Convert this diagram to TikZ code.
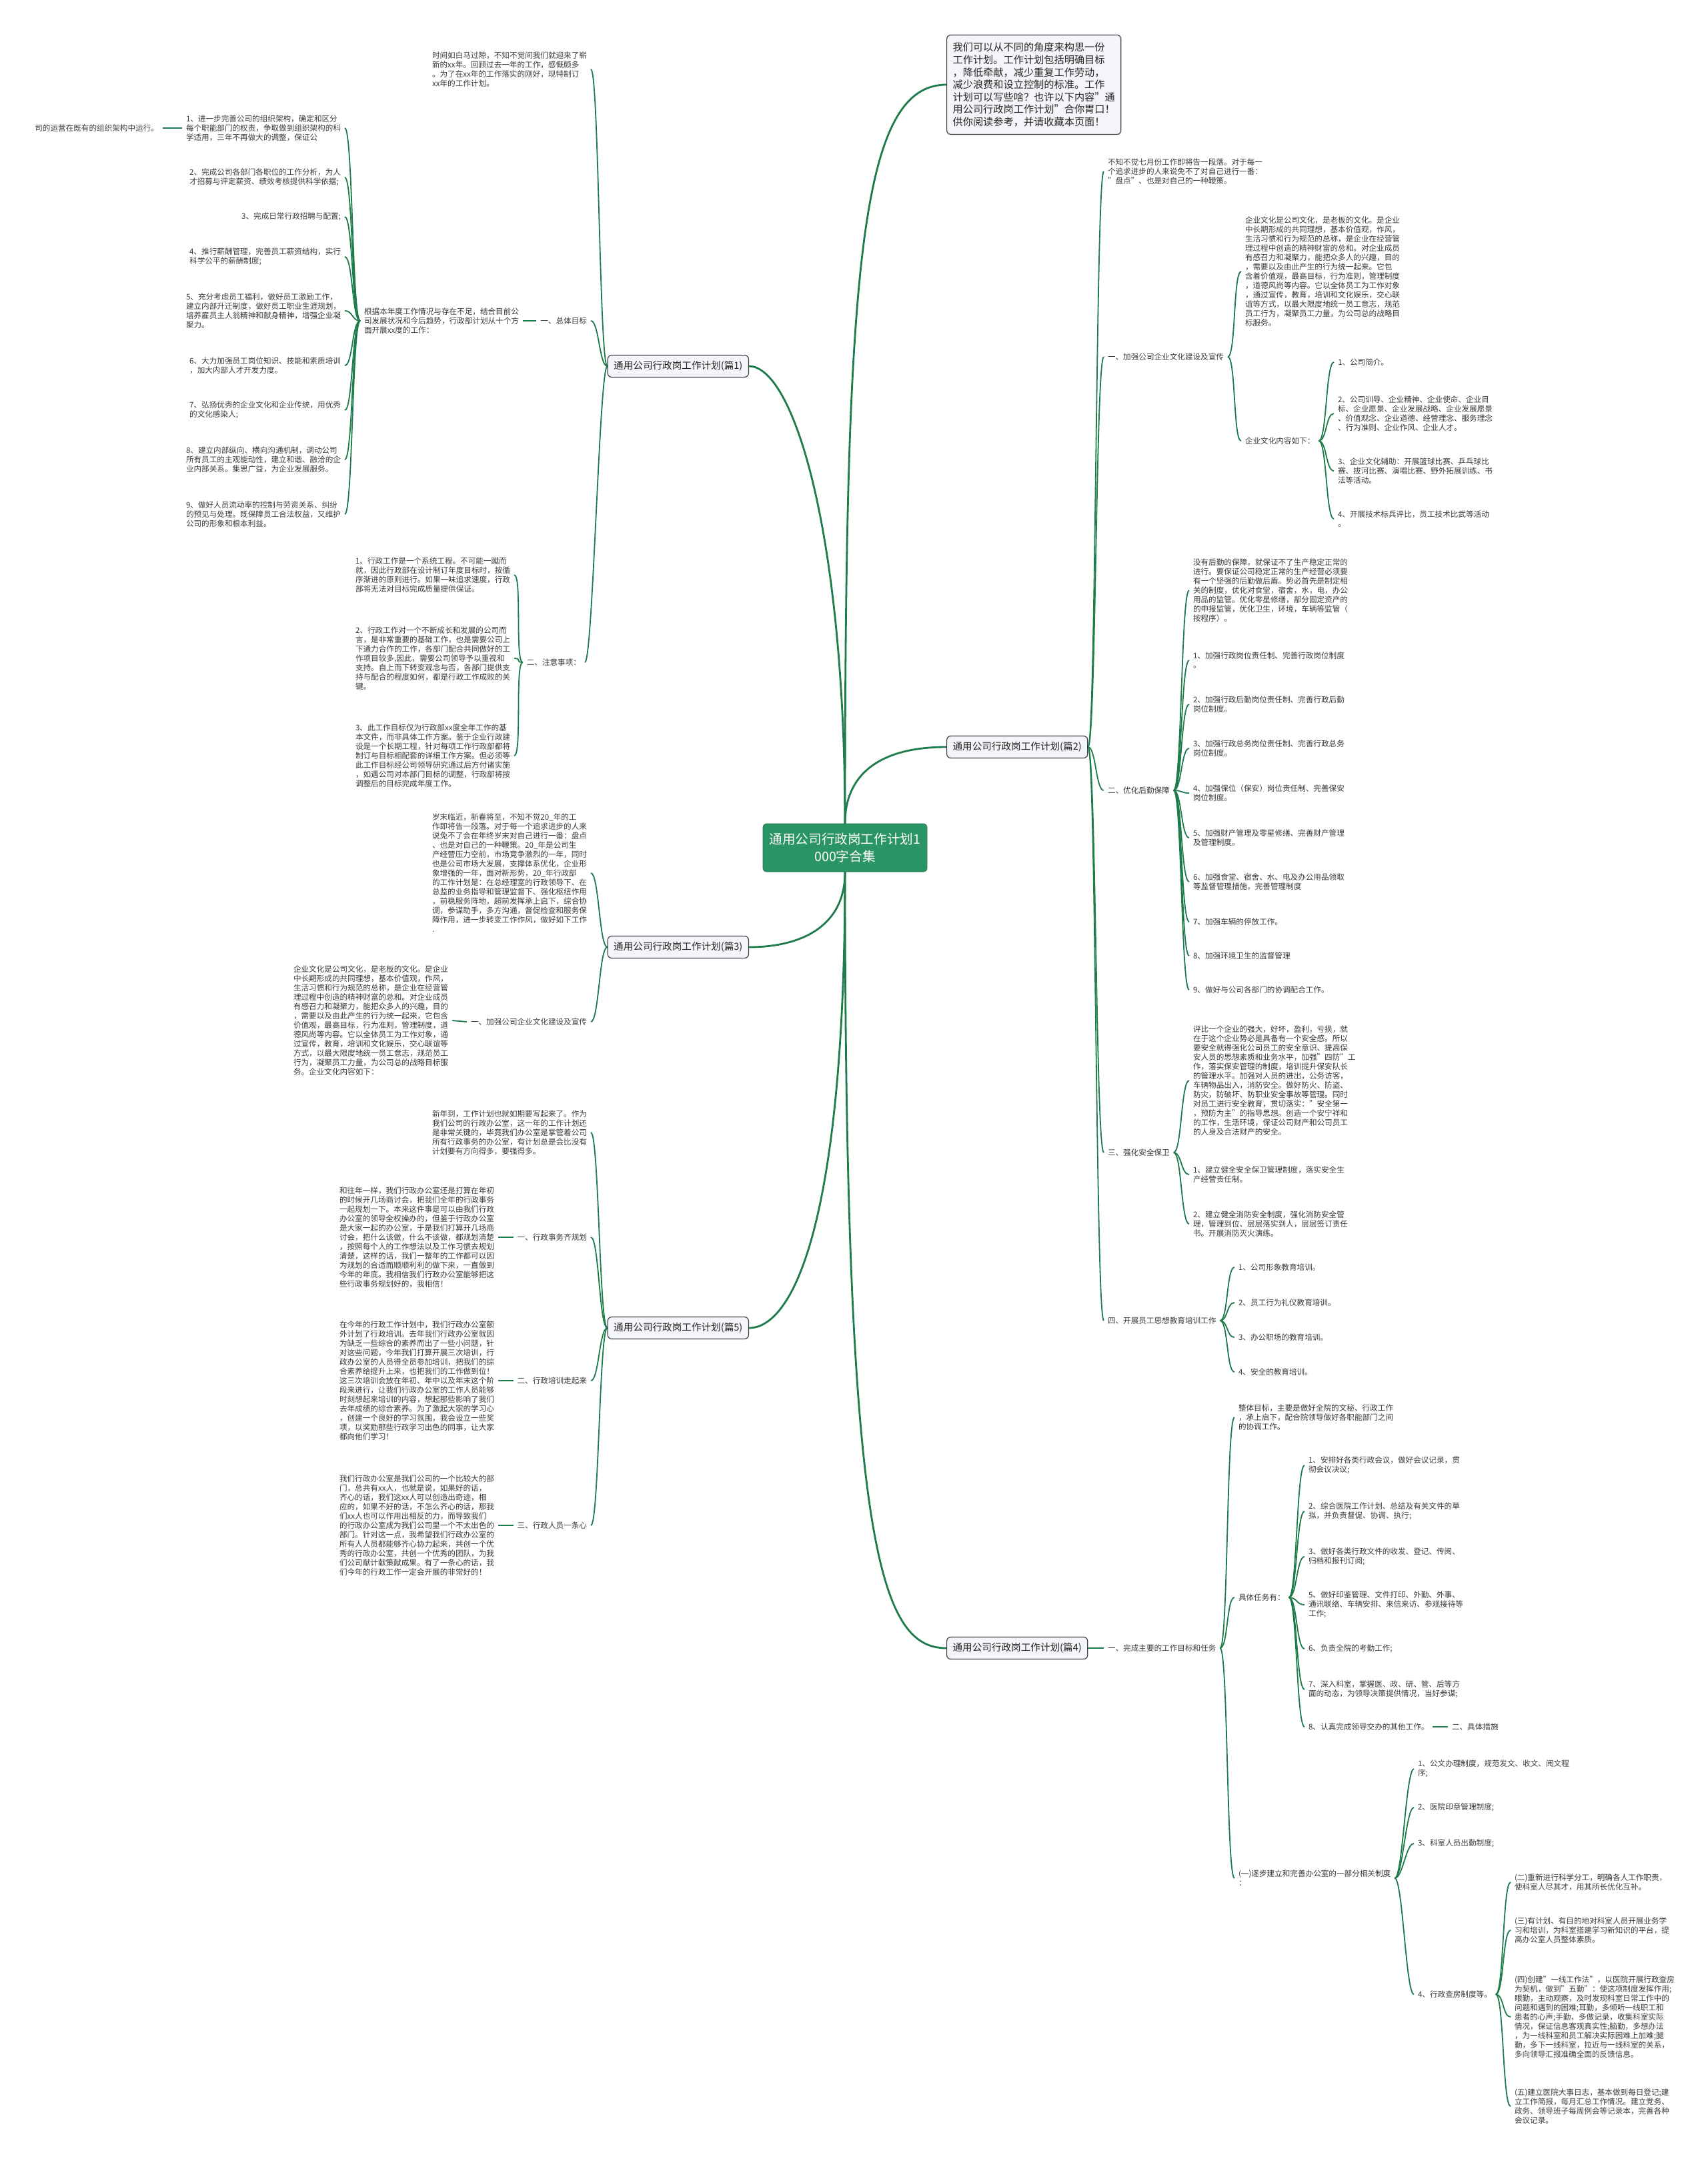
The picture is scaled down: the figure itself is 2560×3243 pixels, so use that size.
\documentclass[tikz,border=0pt]{standalone}
\usepackage{fontspec}
\setmainfont{Noto Sans CJK SC}
\definecolor{lk}{HTML}{1E7B4B}
\definecolor{rootg}{HTML}{2B9464}
\definecolor{tx}{HTML}{3A3A3A}
\definecolor{tpf}{HTML}{F3F5F8}
\definecolor{tpd}{HTML}{3C4048}
\tikzset{
 con/.style={draw=lk, line width=0.9pt},
 mainc/.style={draw=lk, line width=1.4pt},
 txt/.style={inner sep=0pt, outer xsep=3pt, outer ysep=0pt, align=left, text=tx, font=\fontsize{5.8}{7}\selectfont},
 topic/.style={draw=tpd, fill=tpf, rounded corners=3pt, line width=0.6pt, inner xsep=4.5pt, inner ysep=0pt, minimum height=16.5pt, text=black!85, font=\fontsize{7.3}{8.8}\selectfont},
 rootn/.style={fill=rootg, draw=rootg!80!black, rounded corners=2.5pt, minimum width=123pt, minimum height=36pt, align=center, text=white, font=\fontsize{9.8}{13.3}\selectfont},
 introbox/.style={topic, align=left, minimum width=124pt, minimum height=74.5pt, font=\fontsize{7.6}{9.3}\selectfont}
}
\newcommand\conR[2]{\draw[con] (#1.east) .. controls +(12,0) and +(-12,0) .. (#2.west);}
\newcommand\conL[2]{\draw[con] (#1.west) .. controls +(-12,0) and +(12,0) .. (#2.east);}
\begin{document}
\begin{tikzpicture}[x=0.5pt,y=-0.5pt]
\fill[white] (0,0) rectangle (2560,3243);
\useasboundingbox (0,0) rectangle (2560,3243);

% root and topics
\node[rootn] (root) at (1267,1271) {通用公司行政岗工作计划1\\000字合集};
\node[introbox, anchor=west] (intro) at (1419,127) {我们可以从不同的角度来构思一份\\工作计划。工作计划包括明确目标\\，降低牵献，减少重复工作劳动，\\减少浪费和设立控制的标准。工作\\计划可以写些啥？也许以下内容"通\\用公司行政岗工作计划"合你胃口！\\供你阅读参考，并请收藏本页面！};
\node[topic, anchor=west] (t2) at (1419,1120) {通用公司行政岗工作计划(篇2)};
\node[topic, anchor=west] (t4) at (1419,2471) {通用公司行政岗工作计划(篇4)};
\node[topic, anchor=east] (t1) at (1123,549) {通用公司行政岗工作计划(篇1)};
\node[topic, anchor=east] (t3) at (1123,1420) {通用公司行政岗工作计划(篇3)};
\node[topic, anchor=east] (t5) at (1123,1991) {通用公司行政岗工作计划(篇5)};

\draw[mainc] (root.north) .. controls (1267,400) and (1290,127) .. (intro.west);
\draw[mainc] (root.north) .. controls (1267,1160) and (1320,1120) .. (t2.west);
\draw[mainc] (root.north) .. controls (1267,800) and (1190,549) .. (t1.east);
\draw[mainc] (root.south) .. controls (1267,1390) and (1200,1420) .. (t3.east);
\draw[mainc] (root.south) .. controls (1267,1830) and (1190,1991) .. (t5.east);
\draw[mainc] (root.south) .. controls (1267,2320) and (1320,2471) .. (t4.west);

% ---------- 篇1 ----------
\node[txt, anchor=east] (a1intro) at (886,104) {时间如白马过隙，不知不觉间我们就迎来了崭\\新的xx年。回顾过去一年的工作，感慨颇多\\。为了在xx年的工作落实的刚好，现特制订\\xx年的工作计划。};
\node[txt, anchor=east] (a1g) at (886,481) {一、总体目标};
\node[txt, anchor=east] (a1gc) at (784,481) {根据本年度工作情况与存在不足，结合目前公\\司发展状况和今后趋势，行政部计划从十个方\\面开展xx度的工作：};
\node[txt, anchor=east] (i1) at (517,192) {1、进一步完善公司的组织架构，确定和区分\\每个职能部门的权责，争取做到组织架构的科\\学适用，三年不再做大的调整，保证公};
\node[txt, anchor=east] (i1x) at (244,192) {司的运营在既有的组织架构中运行。};
\node[txt, anchor=east] (i2) at (517,266) {2、完成公司各部门各职位的工作分析，为人\\才招募与评定薪资、绩效考核提供科学依据;};
\node[txt, anchor=east] (i3) at (517,325) {3、完成日常行政招聘与配置;};
\node[txt, anchor=east] (i4) at (517,385) {4、推行薪酬管理，完善员工薪资结构，实行\\科学公平的薪酬制度;};
\node[txt, anchor=east] (i5) at (517,466) {5、充分考虑员工福利，做好员工激励工作，\\建立内部升迁制度，做好员工职业生涯规划，\\培养雇员主人翁精神和献身精神，增强企业凝\\聚力。};
\node[txt, anchor=east] (i6) at (517,548) {6、大力加强员工岗位知识、技能和素质培训\\，加大内部人才开发力度。};
\node[txt, anchor=east] (i7) at (517,615) {7、弘扬优秀的企业文化和企业传统，用优秀\\的文化感染人;};
\node[txt, anchor=east] (i8) at (517,689) {8、建立内部纵向、横向沟通机制，调动公司\\所有员工的主观能动性，建立和谐、融洽的企\\业内部关系。集思广益，为企业发展服务。};
\node[txt, anchor=east] (i9) at (517,771) {9、做好人员流动率的控制与劳资关系、纠纷\\的预见与处理。既保障员工合法权益，又维护\\公司的形象和根本利益。};
\node[txt, anchor=east] (a1n) at (877,993) {二、注意事项：};
\node[txt, anchor=east] (n1) at (771,862) {1、行政工作是一个系统工程。不可能一蹴而\\就，因此行政部在设计制订年度目标时，按循\\序渐进的原则进行。如果一味追求速度，行政\\部将无法对目标完成质量提供保证。};
\node[txt, anchor=east] (n2) at (771,987) {2、行政工作对一个不断成长和发展的公司而\\言，是非常重要的基础工作，也是需要公司上\\下通力合作的工作，各部门配合共同做好的工\\作项目较多,因此，需要公司领导予以重视和\\支持。自上而下转变观念与否，各部门提供支\\持与配合的程度如何，都是行政工作成败的关\\键。};
\node[txt, anchor=east] (n3) at (771,1133) {3、此工作目标仅为行政部xx度全年工作的基\\本文件，而非具体工作方案。鉴于企业行政建\\设是一个长期工程，针对每项工作行政部都将\\制订与目标相配套的详细工作方案。但必须等\\此工作目标经公司领导研究通过后方付诸实施\\，如遇公司对本部门目标的调整，行政部将按\\调整后的目标完成年度工作。};

\foreach \c in {a1intro,a1g,a1n} {\conL{t1}{\c}}
\draw[con] (a1g.west) -- (a1gc.east);
\foreach \c in {i1,i2,i3,i4,i5,i6,i7,i8,i9} {\conL{a1gc}{\c}}
\draw[con] (i1.west) -- (i1x.east);
\foreach \c in {n1,n2,n3} {\conL{a1n}{\c}}

% ---------- 篇3 ----------
\node[txt, anchor=east] (c3intro) at (886,1309) {岁末临近，新春将至，不知不觉20\_年的工\\作即将告一段落。对于每一个追求进步的人来\\说免不了会在年终岁末对自己进行一番：盘点\\、也是对自己的一种鞭策。20\_年是公司生\\产经营压力空前，市场竞争激烈的一年，同时\\也是公司市场大发展，支撑体系优化，企业形\\象增强的一年，面对新形势，20\_年行政部\\的工作计划是：在总经理室的行政领导下、在\\总监的业务指导和管理监督下、强化枢纽作用\\，前稳服务阵地，超前发挥承上启下，综合协\\调，参谋助手，多方沟通，督促检查和服务保\\障作用，进一步转变工作作风，做好如下工作\\.};
\node[txt, anchor=east] (c3a) at (886,1532) {一、加强公司企业文化建设及宣传};
\node[txt, anchor=east] (c3ac) at (678,1530) {企业文化是公司文化，是老板的文化。是企业\\中长期形成的共同理想，基本价值观，作风，\\生活习惯和行为规范的总称，是企业在经营管\\理过程中创造的精神财富的总和。对企业成员\\有感召力和凝聚力，能把众多人的兴趣，目的\\，需要以及由此产生的行为统一起来，它包含\\价值观，最高目标，行为准则，管理制度，道\\德风尚等内容。它以全体员工为工作对象，通\\过宣传，教育，培训和文化娱乐，交心联谊等\\方式，以最大限度地统一员工意志，规范员工\\行为，凝聚员工力量，为公司总的战略目标服\\务。企业文化内容如下：};
\foreach \c in {c3intro,c3a} {\conL{t3}{\c}}
\draw[con] (c3a.west) -- (c3ac.east);

% ---------- 篇5 ----------
\node[txt, anchor=east] (e5intro) at (886,1698) {新年到，工作计划也就如期要写起来了。作为\\我们公司的行政办公室，这一年的工作计划还\\是非常关键的，毕竟我们办公室是掌管着公司\\所有行政事务的办公室，有计划总是会比没有\\计划要有方向得多，要强得多。};
\node[txt, anchor=east] (e5a) at (886,1855) {一、行政事务齐规划};
\node[txt, anchor=east] (e5ac) at (747,1855) {和往年一样，我们行政办公室还是打算在年初\\的时候开几场商讨会，把我们全年的行政事务\\一起规划一下。本来这件事是可以由我们行政\\办公室的领导全权操办的，但鉴于行政办公室\\是大家一起的办公室，于是我们打算开几场商\\讨会，把什么该做，什么不该做，都规划清楚\\，按照每个人的工作想法以及工作习惯去规划\\清楚，这样的话，我们一整年的工作都可以因\\为规划的合适而顺顺利利的做下来，一直做到\\今年的年底。我相信我们行政办公室能够把这\\些行政事务规划好的，我相信！};
\node[txt, anchor=east] (e5b) at (886,2070) {二、行政培训走起来};
\node[txt, anchor=east] (e5bc) at (747,2070) {在今年的行政工作计划中，我们行政办公室额\\外计划了行政培训。去年我们行政办公室就因\\为缺乏一些综合的素养而出了一些小问题，针\\对这些问题，今年我们打算开展三次培训，行\\政办公室的人员得全员参加培训，把我们的综\\合素养给提升上来，也把我们的工作做到位！\\这三次培训会放在年初、年中以及年末这个阶\\段来进行，让我们行政办公室的工作人员能够\\时刻想起来培训的内容，想起那些影响了我们\\去年成绩的综合素养。为了激起大家的学习心\\，创建一个良好的学习氛围，我会设立一些奖\\项，以奖励那些行政学习出色的同事，让大家\\都向他们学习！};
\node[txt, anchor=east] (e5c) at (886,2287) {三、行政人员一条心};
\node[txt, anchor=east] (e5cc) at (747,2287) {我们行政办公室是我们公司的一个比较大的部\\门，总共有xx人，也就是说，如果好的话，\\齐心的话，我们这xx人可以创造出奇迹，相\\应的，如果不好的话，不怎么齐心的话，那我\\们xx人也可以作用出相反的力，而导致我们\\的行政办公室成为我们公司里一个不太出色的\\部门。针对这一点，我希望我们行政办公室的\\所有人人员都能够齐心协力起来，共创一个优\\秀的行政办公室，共创一个优秀的团队，为我\\们公司献计献策献成果。有了一条心的话，我\\们今年的行政工作一定会开展的非常好的！};
\foreach \c in {e5intro,e5a,e5b,e5c} {\conL{t5}{\c}}
\draw[con] (e5a.west) -- (e5ac.east);
\draw[con] (e5b.west) -- (e5bc.east);
\draw[con] (e5c.west) -- (e5cc.east);

% ---------- 篇2 ----------
\node[txt, anchor=west] (b2intro) at (1655,257) {不知不觉七月份工作即将告一段落。对于每一\\个追求进步的人来说免不了对自己进行一番：\\"盘点"、也是对自己的一种鞭策。};
\node[txt, anchor=west] (b2a) at (1655,535) {一、加强公司企业文化建设及宣传};
\node[txt, anchor=west] (b2ai) at (1861,407) {企业文化是公司文化，是老板的文化。是企业\\中长期形成的共同理想，基本价值观，作风，\\生活习惯和行为规范的总称，是企业在经营管\\理过程中创造的精神财富的总和。对企业成员\\有感召力和凝聚力，能把众多人的兴趣，目的\\，需要以及由此产生的行为统一起来。它包\\含着价值观，最高目标，行为准则，管理制度\\，道德风尚等内容。它以全体员工为工作对象\\，通过宣传，教育，培训和文化娱乐，交心联\\谊等方式，以最大限度地统一员工意志，规范\\员工行为，凝聚员工力量，为公司总的战略目\\标服务。};
\node[txt, anchor=west] (b2ab) at (1861,661) {企业文化内容如下：};
\node[txt, anchor=west] (b2ab1) at (2000,543) {1、公司简介。};
\node[txt, anchor=west] (b2ab2) at (2000,620) {2、公司训导、企业精神、企业使命、企业目\\标、企业愿景、企业发展战略、企业发展愿景\\、价值观念、企业道德、经营理念、服务理念\\、行为准则、企业作风、企业人才。};
\node[txt, anchor=west] (b2ab3) at (2000,706) {3、企业文化辅助：开展篮球比赛、乒乓球比\\赛、拔河比赛、演唱比赛、野外拓展训练、书\\法等活动。};
\node[txt, anchor=west] (b2ab4) at (2000,778) {4、开展技术标兵评比，员工技术比武等活动\\。};

\node[txt, anchor=west] (b2b) at (1655,1185) {二、优化后勤保障};
\node[txt, anchor=west] (b2bi) at (1783,885) {没有后勤的保障，就保证不了生产稳定正常的\\进行。要保证公司稳定正常的生产经营必须要\\有一个坚强的后勤做后盾。势必首先是制定相\\关的制度，优化对食堂，宿舍，水，电，办公\\用品的监管。优化零星修缮，部分固定资产的\\的申报监管，优化卫生，环境，车辆等监管（\\按程序）。};
\node[txt, anchor=west] (b2b1) at (1783,990) {1、加强行政岗位责任制、完善行政岗位制度\\。};
\node[txt, anchor=west] (b2b2) at (1783,1056) {2、加强行政后勤岗位责任制、完善行政后勤\\岗位制度。};
\node[txt, anchor=west] (b2b3) at (1783,1122) {3、加强行政总务岗位责任制、完善行政总务\\岗位制度。};
\node[txt, anchor=west] (b2b4) at (1783,1189) {4、加强保位（保安）岗位责任制、完善保安\\岗位制度。};
\node[txt, anchor=west] (b2b5) at (1783,1256) {5、加强财产管理及零星修缮、完善财产管理\\及管理制度。};
\node[txt, anchor=west] (b2b6) at (1783,1322) {6、加强食堂、宿舍、水、电及办公用品领取\\等监督管理措施，完善管理制度};
\node[txt, anchor=west] (b2b7) at (1783,1382) {7、加强车辆的停放工作。};
\node[txt, anchor=west] (b2b8) at (1783,1433) {8、加强环境卫生的监督管理};
\node[txt, anchor=west] (b2b9) at (1783,1484) {9、做好与公司各部门的协调配合工作。};

\node[txt, anchor=west] (b2c) at (1655,1728) {三、强化安全保卫};
\node[txt, anchor=west] (b2ci) at (1783,1620) {评比一个企业的强大，好坏，盈利，亏损，就\\在于这个企业势必是具备有一个安全感。所以\\要安全就得强化公司员工的安全意识、提高保\\安人员的思想素质和业务水平，加强"四防"工\\作，落实保安管理的制度，培训提升保安队长\\的管理水平。加强对人员的进出，公务访客，\\车辆物品出入，消防安全。做好防火、防盗、\\防灾，防破坏、防职业安全事故等管理。同时\\对员工进行安全教育，贯切落实："安全第一\\，预防为主"的指导思想。创造一个安宁祥和\\的工作，生活环境，保证公司财产和公司员工\\的人身及合法财产的安全。};
\node[txt, anchor=west] (b2c1) at (1783,1761) {1、建立健全安全保卫管理制度，落实安全生\\产经营责任制。};
\node[txt, anchor=west] (b2c2) at (1783,1835) {2、建立健全消防安全制度，强化消防安全管\\理，管理到位、层层落实到人，层层签订责任\\书。开展消防灭火演练。};

\node[txt, anchor=west] (b2d) at (1655,1980) {四、开展员工思想教育培训工作};
\node[txt, anchor=west] (b2d1) at (1851,1900) {1、公司形象教育培训。};
\node[txt, anchor=west] (b2d2) at (1851,1953) {2、员工行为礼仪教育培训。};
\node[txt, anchor=west] (b2d3) at (1851,2005) {3、办公职场的教育培训。};
\node[txt, anchor=west] (b2d4) at (1851,2057) {4、安全的教育培训。};

\foreach \c in {b2intro,b2a,b2b,b2c,b2d} {\conR{t2}{\c}}
\foreach \c in {b2ai,b2ab} {\conR{b2a}{\c}}
\foreach \c in {b2ab1,b2ab2,b2ab3,b2ab4} {\conR{b2ab}{\c}}
\foreach \c in {b2bi,b2b1,b2b2,b2b3,b2b4,b2b5,b2b6,b2b7,b2b8,b2b9} {\conR{b2b}{\c}}
\foreach \c in {b2ci,b2c1,b2c2} {\conR{b2c}{\c}}
\foreach \c in {b2d1,b2d2,b2d3,b2d4} {\conR{b2d}{\c}}

% ---------- 篇4 ----------
\node[txt, anchor=west] (d4a) at (1655,2471) {一、完成主要的工作目标和任务};
\node[txt, anchor=west] (d4a1) at (1851,2125) {整体目标，主要是做好全院的文秘、行政工作\\，承上启下，配合院领导做好各职能部门之间\\的协调工作。};
\node[txt, anchor=west] (d4a2) at (1851,2395) {具体任务有：};
\node[txt, anchor=west] (k1) at (1956,2197) {1、安排好各类行政会议，做好会议记录，贯\\彻会议决议;};
\node[txt, anchor=west] (k2) at (1956,2266) {2、综合医院工作计划、总结及有关文件的草\\拟，并负责督促、协调、执行;};
\node[txt, anchor=west] (k3) at (1956,2334) {3、做好各类行政文件的收发、登记、传阅、\\归档和报刊订阅;};
\node[txt, anchor=west] (k5) at (1956,2406) {5、做好印鉴管理、文件打印、外勤、外事、\\通讯联络、车辆安排、来信来访、参观接待等\\工作;};
\node[txt, anchor=west] (k6) at (1956,2472) {6、负责全院的考勤工作;};
\node[txt, anchor=west] (k7) at (1956,2533) {7、深入科室，掌握医、政、研、管、后等方\\面的动态，为领导决策提供情况，当好参谋;};
\node[txt, anchor=west] (k8) at (1956,2589) {8、认真完成领导交办的其他工作。};
\node[txt, anchor=west] (k8x) at (2171,2589) {二、具体措施};
\node[txt, anchor=west] (d4a3) at (1851,2816) {(一)逐步建立和完善办公室的一部分相关制度\\：};
\node[txt, anchor=west] (z1) at (2120,2652) {1、公文办理制度，规范发文、收文、阅文程\\序;};
\node[txt, anchor=west] (z2) at (2120,2710) {2、医院印章管理制度;};
\node[txt, anchor=west] (z3) at (2120,2764) {3、科室人员出勤制度;};
\node[txt, anchor=west] (z4) at (2120,2990) {4、行政查房制度等。};
\node[txt, anchor=west] (w2) at (2265,2822) {(二)重新进行科学分工，明确各人工作职责，\\使科室人尽其才，用其所长优化互补。};
\node[txt, anchor=west] (w3) at (2265,2894) {(三)有计划、有目的地对科室人员开展业务学\\习和培训，为科室搭建学习新知识的平台，提\\高办公室人员整体素质。};
\node[txt, anchor=west] (w4) at (2265,3024) {(四)创建"一线工作法"，以医院开展行政查房\\为契机，做到"五勤"：使这项制度发挥作用;\\眼勤，主动观察，及时发现科室日常工作中的\\问题和遇到的困难;耳勤，多倾听一线职工和\\患者的心声;手勤，多做记录，收集科室实际\\情况，保证信息客观真实性;脑勤，多想办法\\，为一线科室和员工解决实际困难上加难;腿\\勤，多下一线科室，拉近与一线科室的关系，\\多向领导汇报准确全面的反馈信息。};
\node[txt, anchor=west] (w5) at (2265,3158) {(五)建立医院大事日志，基本做到每日登记;建\\立工作简报，每月汇总工作情况。建立党务、\\政务、领导班子每周例会等记录本，完善各种\\会议记录。};

\draw[con] (t4.east) -- (d4a.west);
\foreach \c in {d4a1,d4a2,d4a3} {\conR{d4a}{\c}}
\foreach \c in {k1,k2,k3,k5,k6,k7,k8} {\conR{d4a2}{\c}}
\draw[con] (k8.east) -- (k8x.west);
\foreach \c in {z1,z2,z3,z4} {\conR{d4a3}{\c}}
\foreach \c in {w2,w3,w4,w5} {\conR{z4}{\c}}
\end{tikzpicture}
\end{document}
